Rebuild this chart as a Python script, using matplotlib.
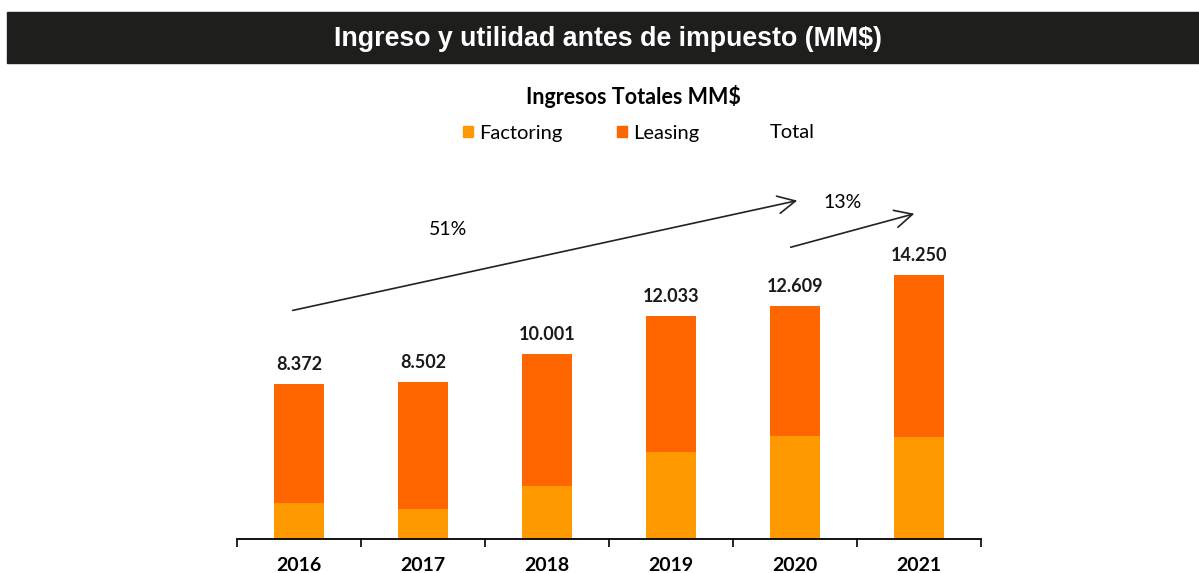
import numpy as np
import matplotlib
matplotlib.use("Agg")
import matplotlib.pyplot as plt
from matplotlib.patches import Rectangle, FancyArrowPatch
from matplotlib.lines import Line2D

# datos (MM$)
years = ["2016", "2017", "2018", "2019", "2020", "2021"]
totals = [8372, 8502, 10001, 12033, 12609, 14250]
factoring = [1950, 1620, 2860, 4700, 5570, 5510]
leasing = [t - f for t, f in zip(totals, factoring)]

C_FACT = "#FF9900"
C_LEAS = "#FF6600"
FONT = "Lato"

W, H = 1199, 573
fig = plt.figure(figsize=(W / 100, H / 100), dpi=100)

# banda de encabezado
fig.patches.append(Rectangle((7 / W, 1 - 63 / H), 1 - 7 / W, 51 / H,
                             transform=fig.transFigure, color="#1e1e1c", zorder=0))
fig.text(608 / W, 1 - 39 / H, "Ingreso y utilidad antes de impuesto (MM$)",
         color="white", fontsize=19.3, fontweight="bold", family="Liberation Sans",
         ha="center", va="center")

# título y leyenda del gráfico
fig.text(633 / W, 1 - 97 / H, "Ingresos Totales MM$", fontsize=15.5,
         fontweight="bold", family=FONT, ha="center", va="center")

ax = fig.add_axes([237 / W, 34 / H, 744 / W, 296 / H])
x = np.arange(len(years))
ax.bar(x, factoring, width=0.41, color=C_FACT, label="Factoring")
ax.bar(x, leasing, bottom=factoring, width=0.41, color=C_LEAS, label="Leasing")
for xi, t in zip(x, totals):
    ax.text(xi, t + 600, f"{t:,}".replace(",", "."), ha="center", va="bottom",
            fontsize=13, fontweight="bold", family=FONT, color="#1a1a1a")

ax.set_xlim(-0.5, len(years) - 0.5)
ax.set_ylim(0, 16000)
ax.set_xticks(x)
ax.set_xticklabels(years, fontsize=14, fontweight="bold", family=FONT)
ax.set_xticks(np.arange(-0.5, len(years)), minor=True)
ax.tick_params(axis="x", which="major", length=0, pad=13)
ax.tick_params(axis="x", which="minor", length=6, width=1.2, direction="out")
ax.set_yticks([])
for s in ["top", "right", "left"]:
    ax.spines[s].set_visible(False)
ax.spines["bottom"].set_linewidth(1.3)

handles = [Rectangle((0, 0), 1, 1, color=C_FACT),
           Rectangle((0, 0), 1, 1, color=C_LEAS),
           Line2D([], [], color="none")]
fig.legend(handles, ["Factoring", "Leasing", "Total"], loc="center",
           bbox_to_anchor=(639 / W, 1 - 133 / H), ncol=3, frameon=False,
           prop={"family": FONT, "size": 14.5}, handlelength=0.5, handleheight=0.5,
           columnspacing=2.7, handletextpad=0.3)

# flechas de crecimiento
arrow = dict(arrowstyle="->,head_length=0.9,head_width=0.45", color="#222222",
             lw=1.2, mutation_scale=14, transform=fig.transFigure)
fig.add_artist(FancyArrowPatch((290 / W, 1 - 311 / H), (800 / W, 1 - 200 / H), **arrow))
fig.add_artist(FancyArrowPatch((788 / W, 1 - 248 / H), (917 / W, 1 - 213 / H), **arrow))
fig.text(448 / W, 1 - 230 / H, "51%", fontsize=14, family=FONT, ha="center", va="center")
fig.text(843 / W, 1 - 203 / H, "13%", fontsize=14, family=FONT, ha="center", va="center")

fig.savefig("out.png", dpi=100)
